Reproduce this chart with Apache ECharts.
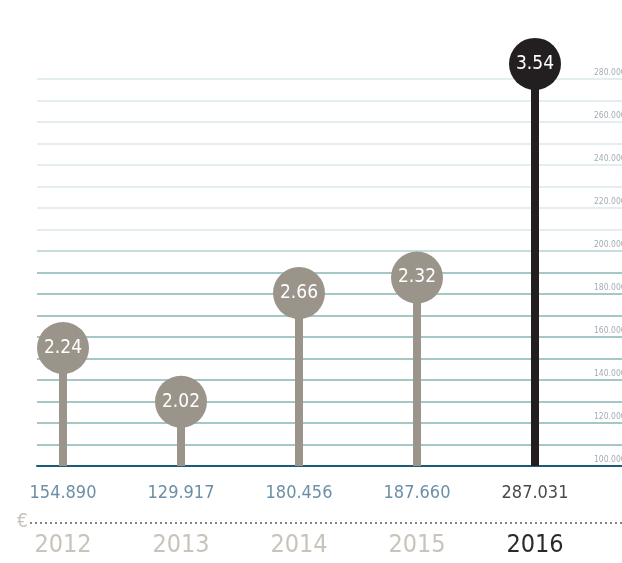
<!DOCTYPE html>
<html><head><meta charset="utf-8">
<script src="https://cdn.jsdelivr.net/npm/echarts@6/dist/echarts.min.js"></script>
<style>html,body{margin:0;padding:0;background:#fff}#c{width:622px;height:563px}</style>
</head><body><div id="c"></div>
<script>
const years = ['2012', '2013', '2014', '2015', '2016'];
const values = [154890, 129917, 180456, 187660, 287031];
const ratios = ['2.24', '2.02', '2.66', '2.32', '3.54'];
const yMin = 100000, yMax = 280000, yStep = 10000;

const FONT = '"Liberation Sans Narrow", "DejaVu Sans Condensed", "Roboto", sans-serif';
const GREY = '#9b948b', DARK = '#231f20';
const fmt = v => String(v).replace(/\B(?=(\d{3})+(?!\d))/g, '.');

const lineColors = [];
for (let v = yMin; v <= yMax; v += yStep) {
  lineColors.push(v === yMin ? '#1d5c78' : (v < 200000 ? '#a3c8c5' : (v === 200000 ? '#c6dddb' : '#e3eeee')));
}

const chart = echarts.init(document.getElementById('c'));
chart.setOption({
  animation: false,
  grid: [
    {left: 4, right: 28, top: 79, bottom: 97, outerBoundsMode: 'none', containLabel: false},
    {left: 37, right: 0, top: 79, bottom: 97, outerBoundsMode: 'none', containLabel: false}
  ],
  xAxis: [
    {type: 'category', gridIndex: 0, data: years,
      axisLine: {show: false}, axisTick: {show: false},
      axisLabel: {margin: 8, interval: 0, fontFamily: FONT,
        formatter: (val, i) => {
          const d = i === years.length - 1;
          return '{' + (d ? 'vd' : 'v') + '|' + fmt(values[i]) + '}\n{' + (d ? 'yd' : 'y') + '|' + val + '}';
        },
        rich: {
          v: {fontFamily: FONT, fontWeight: 300, fontSize: 18, color: '#6b8fa6', lineHeight: 38, verticalAlign: 'middle'},
          vd: {fontFamily: FONT, fontWeight: 300, fontSize: 18, color: '#4a4a4a', lineHeight: 38, verticalAlign: 'middle'},
          y: {fontFamily: FONT, fontWeight: 300, fontSize: 25, color: '#c9c3bc', lineHeight: 66, verticalAlign: 'middle'},
          yd: {fontFamily: FONT, fontWeight: 300, fontSize: 25, color: '#2a2a2a', lineHeight: 66, verticalAlign: 'middle'}
        }
      }},
    {type: 'value', gridIndex: 1, min: 0, max: 1, show: true,
      axisLine: {show: true, onZero: false, lineStyle: {color: '#1d5c78', width: 2}},
      axisTick: {show: false}, axisLabel: {show: false}, splitLine: {show: false}}
  ],
  yAxis: [
    {type: 'value', gridIndex: 0, min: yMin, max: yMax, interval: yStep, show: false},
    {type: 'value', gridIndex: 1, min: yMin, max: yMax, interval: yStep, position: 'right',
      axisLine: {show: false}, axisTick: {show: false},
      splitLine: {show: true, lineStyle: {color: lineColors, width: 2}},
      axisLabel: {inside: true, margin: 28, align: 'left', verticalAlign: 'bottom',
        padding: [0, 0, 2, 0], fontFamily: FONT, fontSize: 8.5, color: '#a3adb4',
        formatter: v => (v % 20000 === 0 ? fmt(v) : '')}}
  ],
  graphic: [
    {type: 'line', shape: {x1: 30, y1: 523, x2: 622, y2: 523},
      style: {stroke: '#8a8279', lineWidth: 2, lineDash: [2, 3]}},
    {type: 'text', left: 17, top: 513, style: {text: '€', fontFamily: FONT, fontWeight: 300, fontSize: 19, fill: '#c8c2bb'}}
  ],
  series: [
    {type: 'bar', xAxisIndex: 0, yAxisIndex: 0, barWidth: 8,
      data: values.map((v, i) => ({value: v, itemStyle: {color: i === values.length - 1 ? DARK : GREY}}))},
    {type: 'scatter', xAxisIndex: 0, yAxisIndex: 0, symbolSize: 52, clip: false, z: 5,
      data: values.map((v, i) => ({value: [years[i], v], itemStyle: {color: i === values.length - 1 ? DARK : GREY, opacity: 1}})),
      label: {show: true, position: 'inside', color: '#ffffff', fontFamily: FONT, fontWeight: 300, fontSize: 19,
        formatter: p => ratios[p.dataIndex]}}
  ]
});
</script></body></html>
